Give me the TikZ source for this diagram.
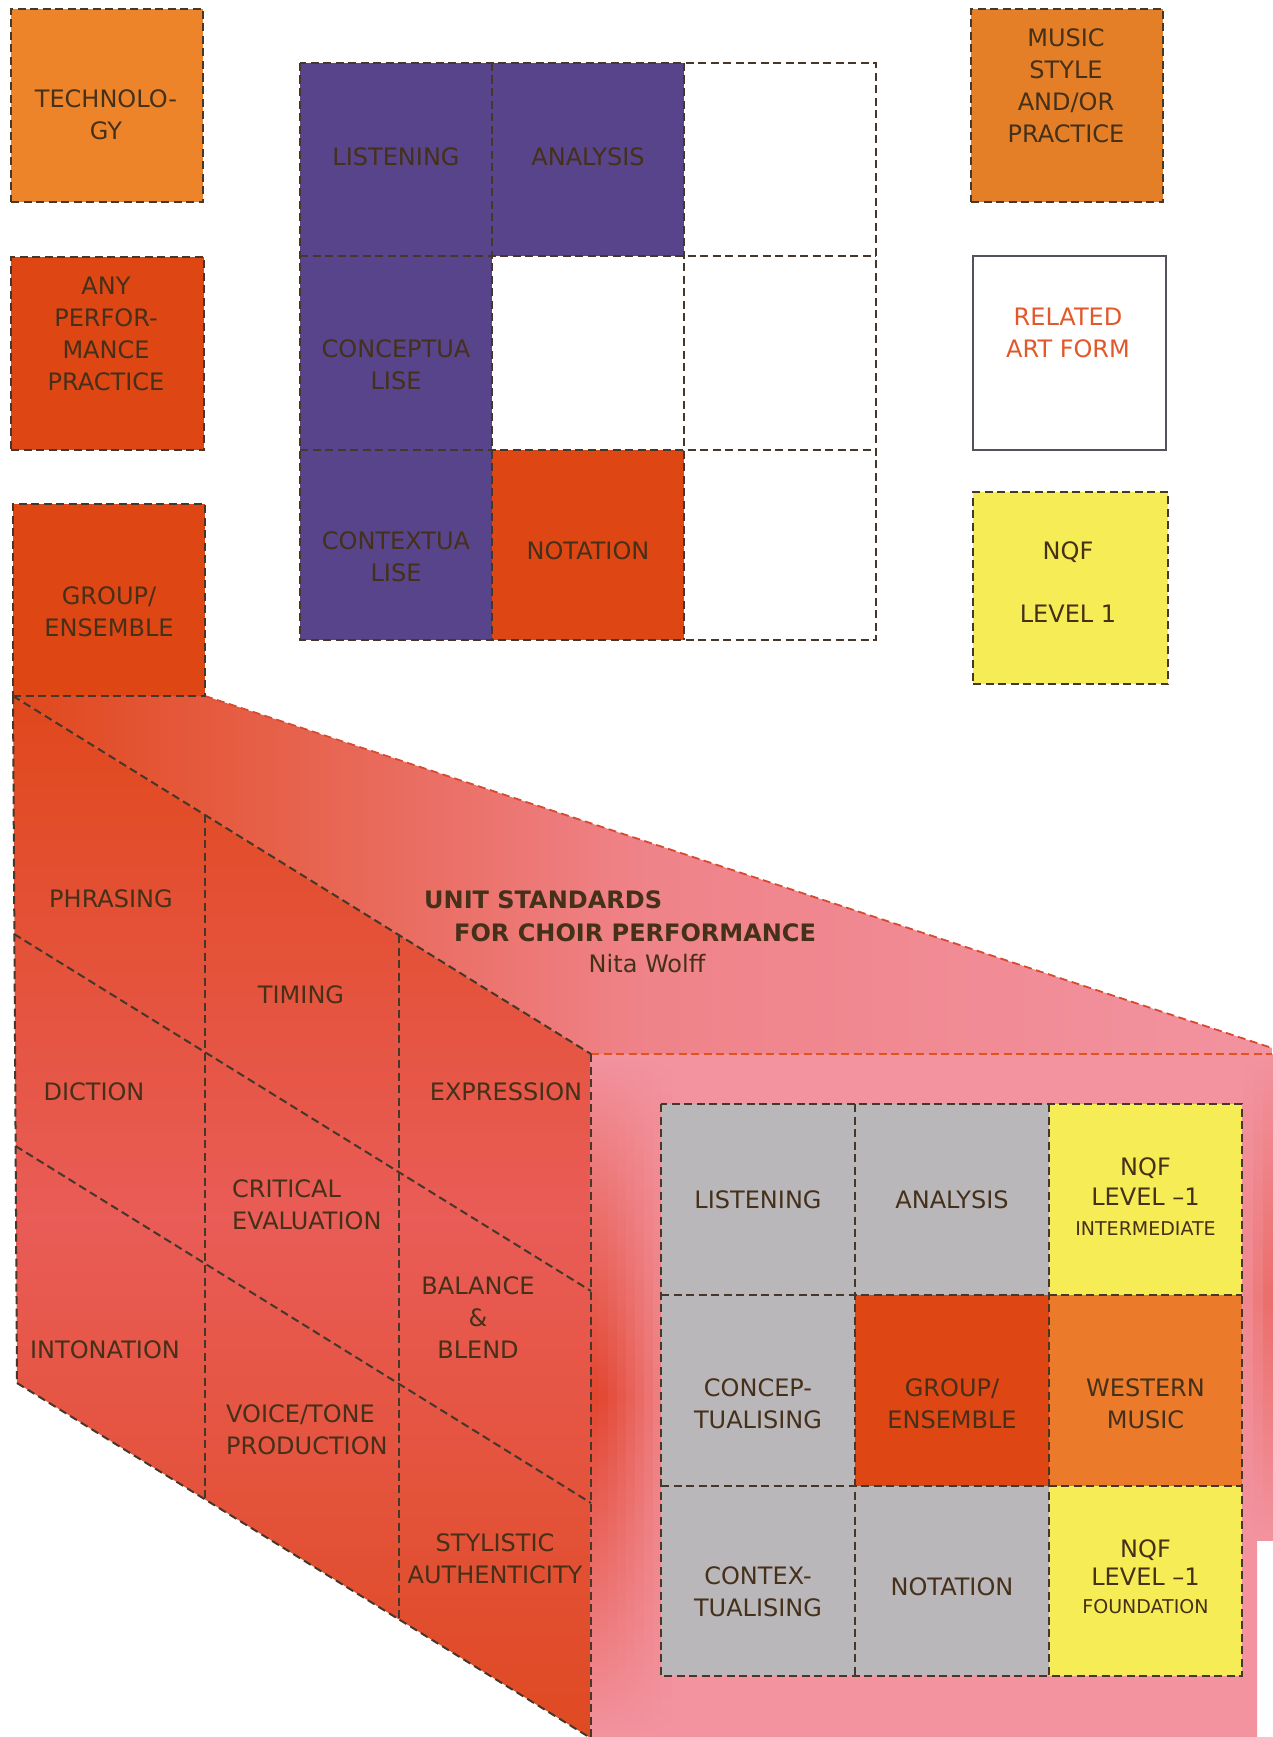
\documentclass[tikz,border=0pt]{standalone}
\usepackage{fontspec}
\setmainfont{DejaVu Sans}
\usetikzlibrary{calc}
\definecolor{edgec}{HTML}{45372A}
\definecolor{txtc}{HTML}{45301A}
\definecolor{orangec}{HTML}{EE8429}
\definecolor{redc}{HTML}{DE4614}
\definecolor{purplec}{HTML}{57448A}
\definecolor{yellowc}{HTML}{F6EC55}
\definecolor{grayc}{HTML}{BAB7BB}
\definecolor{westc}{HTML}{EB7A2A}
\definecolor{pinkc}{HTML}{F2939F}
\definecolor{bandc}{HTML}{E2432C}
\definecolor{sidetop}{HTML}{E0481C}
\definecolor{sidemid}{HTML}{E95C57}
\definecolor{sidebot}{HTML}{DF4A22}
\definecolor{relc}{HTML}{E2582A}
\definecolor{framec}{HTML}{55505A}
\definecolor{topedge}{HTML}{D64A32}
\definecolor{frontedge}{HTML}{E0521E}
\begin{document}
\begin{tikzpicture}[x=1pt,y=-1pt,
  dsh/.style={draw=edgec,line width=2pt,dash pattern=on 8pt off 4.5pt},
  cell/.style={inner sep=0pt,outer sep=0pt},
  lbl/.style={text=txtc,align=center,inner sep=0pt,font={\fontsize{24}{32}\selectfont}}
]
\useasboundingbox (0,0) rectangle (1272,1737);
\fill[white] (0,0) rectangle (1272,1737);

% ---------- prism ----------
\coordinate (P1) at (13,696);
\coordinate (P2) at (205,696);
\coordinate (P3) at (1272,1048);
\coordinate (F1) at (591,1054);
\coordinate (F2) at (1272,1054);
\coordinate (B1) at (17,1383);
\coordinate (B2) at (589,1737);
\coordinate (F3) at (591,1737);

% top face
\shade[left color=sidetop, right color=pinkc, middle color=pinkc!70!sidemid]
  (P1) -- (P2) -- (P3) -- (F2) -- (F1) -- cycle;
% side face
\shade[top color=sidetop, bottom color=sidebot, middle color=sidemid]
  (P1) -- (F1) -- (F3) -- (B2) -- (B1) -- cycle;
% front face
\fill[pinkc] (F1) -- (F2) -- (1272,1540) -- (1257,1540) -- (1257,1737) -- (F3) -- cycle;
\foreach \i/\p in {0/96,1/92,2/84,3/74,4/63,5/52,6/40,7/28,8/16}{
  \shade[top color=pinkc, bottom color=pinkc, middle color=bandc!\p!pinkc]
    ({590+9*\i},1054) rectangle ({600+9*\i},1737);
}
\foreach \i/\p in {0/15,1/30,2/45}{
  \shade[top color=pinkc, bottom color=pinkc, middle color=bandc!\p!pinkc]
    ({1243+10*\i},1054) rectangle ({1253.5+10*\i},1540);
}

% prism edges
\draw[draw=topedge,line width=1.8pt,dash pattern=on 8pt off 4.5pt] (P2) -- (P3);
\draw[draw=frontedge,line width=2pt,dash pattern=on 8pt off 4.5pt] (F1) -- (F2);
\draw[dsh] (P1) -- (F1);
\draw[dsh] (P1) -- (B1);
\draw[dsh] (B1) -- (B2);
\draw[dsh] (F1) -- (F3);
\coordinate (C1t) at (205,815);
\coordinate (C1b) at (205,1499);
\coordinate (C2t) at (399,935);
\coordinate (C2b) at (399,1619);
\draw[dsh] (C1t) -- (C1b);
\draw[dsh] (C2t) -- (C2b);
\coordinate (R1l) at (14,934);
\coordinate (R1r) at (591,1291);
\coordinate (R2l) at (15.5,1146);
\coordinate (R2r) at (591,1503);
\draw[dsh] (R1l) -- (R1r);
\draw[dsh] (R2l) -- (R2r);

% side face labels
\node[lbl] (phr) at (111,899) {PHRASING};
\node[lbl] (tim) at (301,995) {TIMING};
\node[lbl] (dic) at (94,1092) {DICTION};
\node[lbl] (exp) at (506,1092) {EXPRESSION};
\node[lbl,anchor=west,align=left] (cri) at (232,1205) {CRITICAL\\EVALUATION};
\node[lbl] (bal) at (478,1318) {BALANCE\\\&\\BLEND};
\node[lbl] (ton) at (105,1350) {INTONATION};
\node[lbl,anchor=west,align=left] (voi) at (226,1430) {VOICE/TONE\\PRODUCTION};
\node[lbl] (sty) at (495,1559) {STYLISTIC\\AUTHENTICITY};

% title
\node[text=txtc,inner sep=0pt,anchor=west,font={\fontsize{24}{30}\bfseries\selectfont}] (ti1) at (424,900) {UNIT STANDARDS};
\node[text=txtc,inner sep=0pt,anchor=west,font={\fontsize{24}{30}\bfseries\selectfont}] (ti2) at (454,933) {FOR CHOIR PERFORMANCE};
\node[lbl] (aut) at (647,964) {Nita Wolff};

% ---------- front grid ----------
\node[cell,fill=grayc,minimum width=194pt,minimum height=191pt] (f11) at (758,1199.5) {};
\node[cell,fill=grayc,minimum width=194pt,minimum height=191pt] (f12) at (952,1199.5) {};
\node[cell,fill=yellowc,minimum width=193pt,minimum height=191pt] (f13) at (1145.5,1199.5) {};
\node[cell,fill=grayc,minimum width=194pt,minimum height=191pt] (f21) at (758,1390.5) {};
\node[cell,fill=redc,minimum width=194pt,minimum height=191pt] (f22) at (952,1390.5) {};
\node[cell,fill=westc,minimum width=193pt,minimum height=191pt] (f23) at (1145.5,1390.5) {};
\node[cell,fill=grayc,minimum width=194pt,minimum height=190pt] (f31) at (758,1581) {};
\node[cell,fill=grayc,minimum width=194pt,minimum height=190pt] (f32) at (952,1581) {};
\node[cell,fill=yellowc,minimum width=193pt,minimum height=190pt] (f33) at (1145.5,1581) {};
\draw[dsh] (f11.north west) rectangle (f33.south east);
\draw[dsh] (f11.north east) -- (f31.south east);
\draw[dsh] (f12.north east) -- (f32.south east);
\draw[dsh] (f11.south west) -- (f13.south east);
\draw[dsh] (f21.south west) -- (f23.south east);

\node[lbl] (f11t) at (f11.center) {LISTENING};
\node[lbl] (f12t) at (f12.center) {ANALYSIS};
\node[lbl,font={\fontsize{24}{30}\selectfont}] (f13t) at ($(f13.center)+(0,-3)$) {NQF\\LEVEL –1\\{\fontsize{19}{26}\selectfont INTERMEDIATE}};
\node[lbl] (f21t) at ($(f21.center)+(0,13)$) {CONCEP-\\TUALISING};
\node[lbl] (f22t) at ($(f22.center)+(0,13)$) {GROUP/\\ENSEMBLE};
\node[lbl] (f23t) at ($(f23.center)+(0,13)$) {WESTERN\\MUSIC};
\node[lbl] (f31t) at ($(f31.center)+(0,11)$) {CONTEX-\\TUALISING};
\node[lbl] (f32t) at ($(f32.center)+(0,6)$) {NOTATION};
\node[lbl,font={\fontsize{24}{28}\selectfont}] (f33t) at ($(f33.center)+(0,-4)$) {NQF\\LEVEL –1\\{\fontsize{19}{26}\selectfont FOUNDATION}};

% ---------- top grid ----------
\node[cell,fill=purplec,minimum width=192pt,minimum height=193pt] (t11) at (396,159.5) {};
\node[cell,fill=purplec,minimum width=192pt,minimum height=193pt] (t12) at (588,159.5) {};
\node[cell,minimum width=192pt,minimum height=193pt] (t13) at (780,159.5) {};
\node[cell,fill=purplec,minimum width=192pt,minimum height=194pt] (t21) at (396,353) {};
\node[cell,minimum width=192pt,minimum height=194pt] (t22) at (588,353) {};
\node[cell,minimum width=192pt,minimum height=194pt] (t23) at (780,353) {};
\node[cell,fill=purplec,minimum width=192pt,minimum height=190pt] (t31) at (396,545) {};
\node[cell,fill=redc,minimum width=192pt,minimum height=190pt] (t32) at (588,545) {};
\node[cell,minimum width=192pt,minimum height=190pt] (t33) at (780,545) {};
\draw[dsh] (t11.north west) rectangle (t33.south east);
\draw[dsh] (t11.north east) -- (t31.south east);
\draw[dsh] (t12.north east) -- (t32.south east);
\draw[dsh] (t11.south west) -- (t13.south east);
\draw[dsh] (t21.south west) -- (t23.south east);

\node[lbl] (t11t) at ($(t11.center)+(0,-3)$) {LISTENING};
\node[lbl] (t12t) at ($(t12.center)+(0,-3)$) {ANALYSIS};
\node[lbl] (t21t) at ($(t21.center)+(0,12)$) {CONCEPTUA\\LISE};
\node[lbl] (t31t) at ($(t31.center)+(0,12)$) {CONTEXTUA\\LISE};
\node[lbl] (t32t) at ($(t32.center)+(0,6)$) {NOTATION};

% ---------- left boxes ----------
\node[cell,dsh,fill=orangec,minimum width=192pt,minimum height=193pt] (tech) at (107,105.5) {};
\node[lbl] (techt) at (106,115) {TECHNOLO-\\GY};
\node[cell,dsh,fill=redc,minimum width=193pt,minimum height=193pt] (anyp) at (107.5,353.5) {};
\node[lbl] (anypt) at (106,334) {ANY\\PERFOR-\\MANCE\\PRACTICE};
\node[cell,dsh,fill=redc,minimum width=192pt,minimum height=192pt] (grp) at (109,600) {};
\node[lbl] (grpt) at (109,612) {GROUP/\\ENSEMBLE};

% ---------- right boxes ----------
\node[cell,dsh,fill=orangec!96!black,minimum width=192pt,minimum height=193pt] (mus) at (1067,105.5) {};
\node[lbl] (must) at (1066,86) {MUSIC\\STYLE\\AND/OR\\PRACTICE};
\node[cell,draw=framec,line width=2pt,fill=white,minimum width=193pt,minimum height=194pt] (rel) at (1069.5,353) {};
\node[lbl,text=relc] (relt) at (1068,333) {RELATED\\ART FORM};
\node[cell,dsh,fill=yellowc,minimum width=195pt,minimum height=192pt] (nqf) at (1070.5,588) {};
\node[lbl] (nqft) at (1068,582) {NQF\\[31pt]LEVEL 1};
\end{tikzpicture}
\end{document}
